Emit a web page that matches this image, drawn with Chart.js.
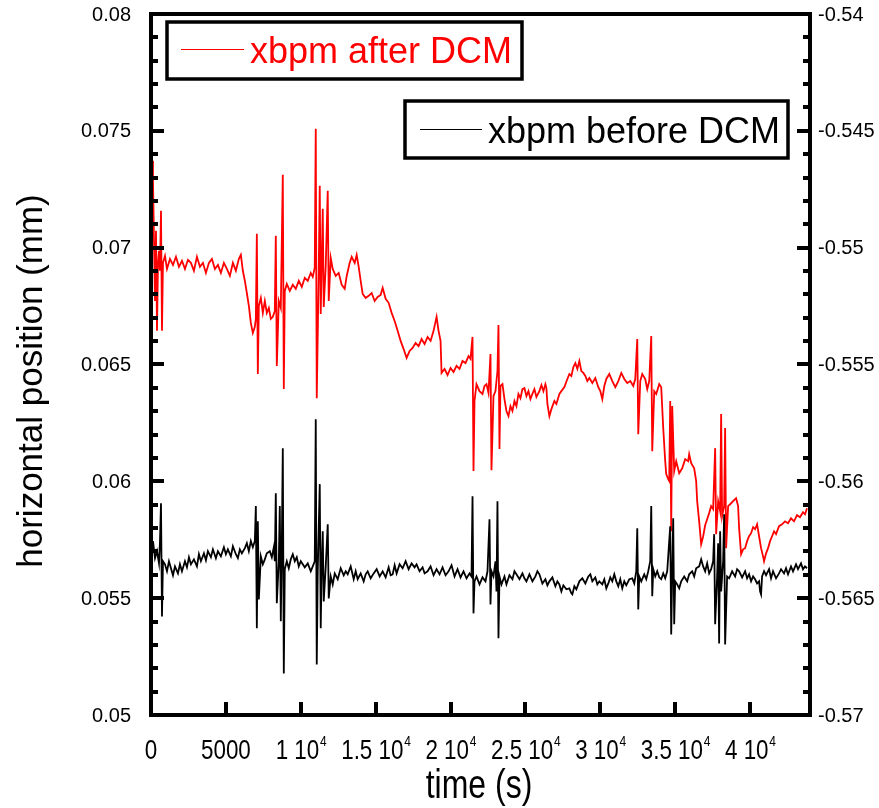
<!DOCTYPE html>
<html>
<head>
<meta charset="utf-8">
<script src="https://cdn.jsdelivr.net/npm/chart.js@4/dist/chart.umd.min.js"></script>
<style>
  html, body { margin: 0; padding: 0; background: #fff; }
  canvas { display: block; }
</style>
</head>
<body>
<canvas id="xbpmChart" width="879" height="808" style="width:879px;height:808px"></canvas>
<script>
// time axis (s) for xbpm after DCM
const tAfter = [
  67,133,200,267,333,400,467,533,600,667,
  733,800,933,1067,1267,1467,1667,1867,2067,2267,
  2467,2667,2867,3067,3267,3467,3667,3867,4067,4267,
  4467,4667,4867,5067,5267,5467,5667,5867,6000,6133,
  6267,6400,6533,6667,6800,6933,7000,7067,7133,7200,
  7333,7467,7600,7733,7867,8000,8133,8267,8333,8400,
  8533,8667,8800,8867,8933,9067,9267,9467,9667,9867,
  10067,10267,10467,10667,10800,10933,11000,11067,11200,11267,
  11333,11467,11533,11667,11800,11867,12000,12133,12333,12533,
  12733,12933,13067,13267,13400,13600,13733,13867,14000,14133,
  14333,14533,14733,14933,15133,15333,15467,15667,15867,16067,
  16267,16467,16667,16867,17067,17267,17467,17667,17867,18067,
  18267,18467,18667,18867,19067,19200,19333,19400,19600,19800,
  20000,20200,20400,20600,20800,21000,21200,21333,21467,21533,
  21600,21733,21933,22133,22267,22400,22533,22667,22733,22867,
  23000,23133,23200,23267,23333,23467,23600,23733,23867,24000,
  24133,24267,24400,24533,24667,24800,24933,25067,25200,25333,
  25467,25600,25733,25933,26067,26200,26333,26400,26467,26600,
  26733,26933,27067,27267,27400,27600,27800,27933,28067,28200,
  28333,28467,28600,28733,28867,29000,29133,29267,29467,29667,
  29867,30000,30133,30267,30400,30600,30800,31000,31200,31400,
  31600,31800,32000,32200,32333,32467,32533,32667,32800,33000,
  33133,33267,33400,33467,33600,33733,33933,34067,34200,34333,
  34400,34533,34600,34667,34733,34800,34933,35067,35267,35467,
  35667,35867,35933,36067,36267,36400,36467,36600,36733,36867,
  37000,37133,37267,37400,37533,37667,37733,37867,38000,38067,
  38133,38267,38333,38400,38533,38667,38867,39067,39200,39267,
  39400,39533,39667,39800,39933,40067,40200,40333,40467,40600,
  40733,40867,40933,41067,41200,41333,41467,41600,41733,41933,
  42133,42333,42533,42733,42933,43133,43333,43533,43667,43800
];
// horizontal position (mm), left axis
const xbpmAfter = [
  0.07372,0.07286,0.07029,0.06772,0.07072,0.06644,0.06935,0.06986,0.06901,0.07158,
  0.06644,0.06935,0.06965,0.06909,0.06952,0.06926,0.06961,0.06918,0.06944,0.06909,
  0.06948,0.06935,0.06901,0.06961,0.06918,0.06935,0.06892,0.06935,0.06952,0.06909,
  0.06926,0.06892,0.06935,0.06909,0.06879,0.06935,0.06901,0.06952,0.06969,0.06901,
  0.06858,0.06806,0.06751,0.06678,0.06635,0.06661,0.06695,0.07059,0.06459,0.06751,
  0.06785,0.06721,0.06772,0.06721,0.06742,0.06695,0.06704,0.06729,0.07051,0.06494,
  0.06772,0.06742,0.07312,0.06395,0.06815,0.06845,0.06815,0.06841,0.06824,0.06858,
  0.06832,0.06871,0.06858,0.06892,0.06875,0.06914,0.07509,0.06356,0.06901,0.07265,
  0.06716,0.07166,0.06746,0.06922,0.07244,0.06772,0.06956,0.06909,0.06879,0.06892,
  0.06841,0.06824,0.06879,0.06935,0.06961,0.06935,0.06969,0.06918,0.06858,0.06802,
  0.06785,0.06794,0.06806,0.06772,0.06789,0.06798,0.06828,0.06781,0.06764,0.06721,
  0.06686,0.06644,0.06601,0.06566,0.06528,0.06558,0.06571,0.06592,0.06579,0.06609,
  0.06588,0.06618,0.06601,0.06644,0.06704,0.06644,0.06601,0.06464,0.06481,0.06455,
  0.06485,0.06468,0.06494,0.06481,0.06515,0.06506,0.06536,0.06524,0.06618,0.06044,
  0.06344,0.06416,0.06386,0.06374,0.06408,0.06416,0.06378,0.06545,0.06048,0.06365,
  0.06386,0.06472,0.06669,0.06138,0.06408,0.06416,0.06352,0.06301,0.06279,0.06322,
  0.06301,0.06344,0.06322,0.06374,0.06356,0.06395,0.06399,0.06365,0.06386,0.06352,
  0.06374,0.06395,0.06361,0.06386,0.06412,0.06386,0.06416,0.06399,0.06331,0.06279,
  0.06309,0.06344,0.06331,0.06374,0.06386,0.06403,0.06438,0.06459,0.06451,0.06489,
  0.06506,0.06481,0.06515,0.06472,0.06464,0.06451,0.06429,0.06442,0.06421,0.06442,
  0.06403,0.06386,0.06352,0.06408,0.06438,0.06459,0.06429,0.06403,0.06429,0.06464,
  0.06438,0.06421,0.06429,0.06408,0.06438,0.06609,0.06202,0.06429,0.06459,0.06438,
  0.06395,0.06429,0.06622,0.06129,0.06386,0.06374,0.06416,0.06403,0.06228,0.06086,
  0.06031,0.06009,0.06001,0.06344,0.05786,0.06322,0.06044,0.06086,0.06035,0.06056,
  0.06095,0.06086,0.06116,0.06078,0.06056,0.06001,0.05915,0.05829,0.05731,0.05765,
  0.05812,0.05838,0.05864,0.05894,0.05881,0.06142,0.05774,0.05915,0.05872,0.06288,
  0.05851,0.05894,0.06228,0.05714,0.05894,0.05902,0.05915,0.05928,0.05894,0.05799,
  0.05688,0.05709,0.05714,0.05744,0.05765,0.05778,0.05804,0.05795,0.05816,0.05765,
  0.05714,0.05679,0.05658,0.05692,0.05714,0.05744,0.05765,0.05786,0.05774,0.05808,
  0.05816,0.05829,0.05821,0.05842,0.05829,0.05855,0.05846,0.05868,0.05859,0.05885
];

// time axis (s) for xbpm before DCM
const tBefore = [
  67,133,267,400,533,600,667,733,800,933,
  1067,1200,1333,1467,1600,1800,1933,2067,2267,2400,
  2533,2667,2867,3067,3200,3333,3533,3667,3800,4000,
  4133,4333,4467,4667,4867,5000,5133,5333,5467,5667,
  5800,5933,6067,6267,6400,6533,6667,6800,6933,7000,
  7067,7133,7200,7333,7467,7600,7733,7933,8067,8200,
  8267,8333,8400,8533,8600,8667,8733,8800,8867,8933,
  9067,9200,9333,9467,9600,9733,9867,10000,10133,10267,
  10467,10667,10800,10933,11000,11067,11133,11267,11333,11400,
  11467,11533,11667,11800,11867,12000,12133,12267,12467,12667,
  12867,13000,13133,13333,13533,13667,13800,14000,14200,14333,
  14467,14667,14867,15067,15267,15467,15667,15867,16000,16133,
  16267,16400,16600,16800,17000,17200,17400,17600,17733,17933,
  18133,18267,18467,18667,18867,19067,19267,19467,19667,19867,
  20067,20267,20467,20667,20867,21067,21267,21400,21467,21533,
  21600,21733,21933,22133,22333,22467,22600,22667,22733,22867,
  23000,23067,23133,23200,23267,23400,23600,23733,23933,24133,
  24267,24400,24600,24800,24933,25067,25267,25467,25667,25800,
  25933,26133,26333,26467,26600,26800,27000,27133,27267,27400,
  27533,27733,27933,28067,28133,28267,28400,28600,28800,29000,
  29200,29333,29467,29667,29800,29933,30133,30267,30400,30533,
  30667,30800,30933,31067,31200,31333,31467,31600,31733,31933,
  32133,32267,32400,32467,32533,32600,32733,32933,33067,33200,
  33333,33400,33467,33533,33667,33800,33933,34067,34200,34333,
  34467,34600,34667,34733,34800,34867,34933,35000,35133,35267,
  35400,35600,35800,35933,36133,36267,36400,36600,36733,36867,
  37000,37133,37267,37400,37533,37600,37667,37800,37867,37933,
  38000,38067,38200,38267,38333,38467,38600,38800,39000,39133,
  39267,39467,39667,39800,39933,40067,40200,40333,40467,40600,
  40667,40733,40800,40933,41067,41267,41400,41533,41733,41933,
  42067,42267,42400,42533,42733,42867,43067,43200,43400,43533,
  43667,43800
];
// horizontal position (mm), right axis
const xbpmBefore = [
  -0.56278,-0.56256,-0.56329,-0.56299,-0.56351,-0.56256,-0.56094,-0.56578,-0.56342,-0.56355,
  -0.56385,-0.56342,-0.56372,-0.56402,-0.56364,-0.56394,-0.56355,-0.56385,-0.56342,-0.56368,
  -0.56325,-0.56355,-0.56334,-0.56364,-0.56312,-0.56342,-0.56308,-0.56338,-0.56299,-0.56325,
  -0.56291,-0.56329,-0.56299,-0.56321,-0.56282,-0.56312,-0.56291,-0.56321,-0.56278,-0.56312,
  -0.56329,-0.56291,-0.56308,-0.56286,-0.56265,-0.56299,-0.56256,-0.56282,-0.56256,-0.56106,
  -0.56629,-0.56171,-0.56505,-0.56321,-0.56355,-0.56334,-0.56308,-0.56299,-0.56325,-0.56282,
  -0.56342,-0.56051,-0.56522,-0.56342,-0.56106,-0.56599,-0.56278,-0.55858,-0.56822,-0.56376,
  -0.56342,-0.56372,-0.56334,-0.56312,-0.56342,-0.56325,-0.56364,-0.56342,-0.56355,-0.56368,
  -0.56351,-0.56385,-0.56364,-0.56342,-0.55734,-0.56784,-0.56385,-0.56012,-0.56629,-0.56342,
  -0.56214,-0.56514,-0.56364,-0.56184,-0.56501,-0.56407,-0.56441,-0.56394,-0.56419,-0.56372,
  -0.56402,-0.56385,-0.56398,-0.56364,-0.56419,-0.56385,-0.56419,-0.56394,-0.56428,-0.56398,
  -0.56385,-0.56415,-0.56394,-0.56376,-0.56407,-0.56385,-0.56411,-0.56368,-0.56402,-0.56398,
  -0.56359,-0.56394,-0.56355,-0.56372,-0.56342,-0.56376,-0.56351,-0.56368,-0.56355,-0.56385,
  -0.56368,-0.56394,-0.56385,-0.56364,-0.56402,-0.56376,-0.56398,-0.56368,-0.56402,-0.56385,
  -0.56359,-0.56407,-0.56376,-0.56411,-0.56385,-0.56415,-0.56394,-0.56407,-0.56064,-0.56565,
  -0.56428,-0.56407,-0.56441,-0.56411,-0.56428,-0.56385,-0.56162,-0.56527,-0.56385,-0.56407,
  -0.56342,-0.56471,-0.56085,-0.56672,-0.56407,-0.56441,-0.56407,-0.56441,-0.56402,-0.56419,
  -0.56385,-0.56398,-0.56419,-0.56394,-0.56415,-0.56428,-0.56398,-0.56428,-0.56407,-0.56385,
  -0.56398,-0.56437,-0.56419,-0.56445,-0.56428,-0.56411,-0.56449,-0.56428,-0.56441,-0.56471,
  -0.56445,-0.56462,-0.56458,-0.56479,-0.56484,-0.56449,-0.56462,-0.56428,-0.56415,-0.56437,
  -0.56407,-0.56398,-0.56428,-0.56411,-0.56441,-0.56428,-0.56441,-0.56419,-0.56458,-0.56437,
  -0.56411,-0.56428,-0.56398,-0.56428,-0.56449,-0.56419,-0.56458,-0.56428,-0.56445,-0.56419,
  -0.56415,-0.56437,-0.56385,-0.56201,-0.56548,-0.56407,-0.56428,-0.56398,-0.56419,-0.56385,
  -0.56342,-0.56106,-0.56492,-0.56376,-0.56407,-0.56385,-0.56411,-0.56419,-0.56394,-0.56415,
  -0.56385,-0.56256,-0.56192,-0.56655,-0.56385,-0.56158,-0.56612,-0.56428,-0.56441,-0.56458,
  -0.56428,-0.56407,-0.56428,-0.56398,-0.56385,-0.56407,-0.56372,-0.56364,-0.56334,-0.56364,
  -0.56385,-0.56351,-0.56394,-0.56376,-0.56342,-0.56226,-0.56612,-0.56407,-0.56265,-0.56694,
  -0.56214,-0.56471,-0.56342,-0.56141,-0.56698,-0.56407,-0.56415,-0.56385,-0.56407,-0.56376,
  -0.56385,-0.56411,-0.56385,-0.56415,-0.56398,-0.56428,-0.56407,-0.56419,-0.56437,-0.56428,
  -0.56471,-0.56484,-0.56407,-0.56385,-0.56402,-0.56376,-0.56415,-0.56385,-0.56415,-0.56394,
  -0.56376,-0.56394,-0.56372,-0.56398,-0.56364,-0.56385,-0.56355,-0.56376,-0.56351,-0.56376,
  -0.56364,-0.56372
];

// axes
const xTicks = [0, 5000, 10000, 15000, 20000, 25000, 30000, 35000, 40000];
const xTickLabels = ["0", "5000", "1 10^4", "1.5 10^4", "2 10^4", "2.5 10^4", "3 10^4", "3.5 10^4", "4 10^4"];
const yLeftTicks = [0.05, 0.055, 0.06, 0.065, 0.07, 0.075, 0.08];
const yRightTicks = [-0.57, -0.565, -0.56, -0.555, -0.55, -0.545, -0.54];
const minorStep = 0.001;

if (tAfter.length !== xbpmAfter.length || tBefore.length !== xbpmBefore.length) {
  throw new Error("length mismatch " + tAfter.length + "/" + xbpmAfter.length + " " + tBefore.length + "/" + xbpmBefore.length);
}

const SANS = "'Liberation Sans', Arial, sans-serif";

/* frame, inward ticks, labels, legends */
const originFrame = {
  id: "originFrame",
  afterDraw(chart) {
    const { ctx, chartArea: a, scales } = chart;
    const x = scales.x, yl = scales.y, yr = scales.y2;
    ctx.save();
    ctx.strokeStyle = "#000";
    ctx.fillStyle = "#000";
    ctx.lineWidth = 4;
    ctx.lineCap = "butt";

    // minor + major ticks on left and right
    for (let v = 0.05; v <= 0.0805; v += minorStep) {
      const py = Math.round(yl.getPixelForValue(v));
      const major = Math.abs(v / 0.005 - Math.round(v / 0.005)) < 1e-6;
      const len = major ? 13 : 7;
      ctx.beginPath();
      ctx.moveTo(a.left, py); ctx.lineTo(a.left + len, py);
      ctx.moveTo(a.right, py); ctx.lineTo(a.right - len, py);
      ctx.stroke();
    }
    // bottom ticks
    xTicks.forEach(v => {
      const px = Math.round(x.getPixelForValue(v));
      ctx.beginPath();
      ctx.moveTo(px, a.bottom); ctx.lineTo(px, a.bottom - 13);
      ctx.stroke();
    });
    // frame
    ctx.strokeRect(a.left, a.top, a.right - a.left, a.bottom - a.top);

    // y tick labels
    ctx.font = "20px " + SANS;
    ctx.textBaseline = "middle";
    ctx.textAlign = "right";
    yLeftTicks.forEach(v => {
      ctx.fillText(String(+v.toFixed(3)), 131, yl.getPixelForValue(v) + 1);
    });
    ctx.textAlign = "left";
    yRightTicks.forEach(v => {
      ctx.fillText(String(+v.toFixed(3)), 818, yr.getPixelForValue(v) + 1);
    });

    // x tick labels (narrow)
    ctx.textBaseline = "alphabetic";
    xTicks.forEach((v, i) => {
      const [main, exp] = xTickLabels[i].split("^");
      const px = x.getPixelForValue(v);
      ctx.save();
      ctx.translate(px, 759);
      ctx.scale(0.8, 1);
      ctx.font = "28px " + SANS;
      const wMain = ctx.measureText(main).width;
      ctx.font = "15px " + SANS;
      const wExp = exp ? ctx.measureText(exp).width : 0;
      const x0 = -(wMain + wExp) / 2;
      ctx.textAlign = "left";
      ctx.font = "28px " + SANS;
      ctx.fillText(main, x0, 0);
      if (exp) {
        ctx.font = "15px " + SANS;
        ctx.fillText(exp, x0 + wMain + 1, -13);
      }
      ctx.restore();
    });

    // axis titles
    ctx.save();
    ctx.translate(479, 798);
    ctx.scale(0.8, 1);
    ctx.font = "40px " + SANS;
    ctx.textAlign = "center";
    ctx.fillText("time (s)", 0, 0);
    ctx.restore();

    ctx.save();
    ctx.translate(42, 381);
    ctx.rotate(-Math.PI / 2);
    ctx.font = "35px " + SANS;
    ctx.textAlign = "center";
    ctx.textBaseline = "alphabetic";
    ctx.fillText("horizontal position (mm)", 0, 0);
    ctx.restore();

    // legends
    drawLegend(ctx, 167, 22, 355, 57, 181, 244, 49, 250, 63, "#ff0000", "xbpm after DCM");
    drawLegend(ctx, 405, 101, 383, 57, 420, 482, 129, 488, 143, "#000000", "xbpm before DCM");
    ctx.restore();
  }
};

function drawLegend(ctx, bx, by, bw, bh, lx0, lx1, ly, tx, ty, color, text) {
  ctx.save();
  ctx.fillStyle = "#fff";
  ctx.fillRect(bx, by, bw, bh);
  ctx.strokeStyle = "#000";
  ctx.lineWidth = 3.5;
  ctx.strokeRect(bx, by, bw, bh);
  ctx.strokeStyle = color;
  ctx.lineWidth = 1;
  ctx.beginPath();
  ctx.moveTo(lx0, ly + 0.5); ctx.lineTo(lx1, ly + 0.5);
  ctx.stroke();
  ctx.fillStyle = color;
  ctx.font = "36px " + SANS;
  ctx.textAlign = "left";
  ctx.textBaseline = "alphabetic";
  ctx.fillText(text, tx, ty);
  ctx.restore();
}

const ctx = document.getElementById("xbpmChart");

new Chart(ctx, {
  type: "line",
  data: {
    datasets: [
      {
        label: "xbpm after DCM",
        data: tAfter.map((t, i) => ({ x: t, y: xbpmAfter[i] })),
        yAxisID: "y",
        borderColor: "#ff0000",
        borderWidth: 1.8,
        pointRadius: 0,
        tension: 0,
        order: 2
      },
      {
        label: "xbpm before DCM",
        data: tBefore.map((t, i) => ({ x: t, y: xbpmBefore[i] })),
        yAxisID: "y2",
        borderColor: "#000000",
        borderWidth: 1.8,
        pointRadius: 0,
        tension: 0,
        order: 1
      }
    ]
  },
  options: {
    responsive: false,
    animation: false,
    events: [],
    layout: { padding: { top: 14, left: 0, right: 0, bottom: 0 } },
    plugins: {
      legend: { display: false },
      tooltip: { enabled: false },
      title: { display: false }
    },
    scales: {
      x: {
        type: "linear",
        position: "bottom",
        min: 0,
        max: 44000,
        ticks: { display: false },
        grid: { display: false },
        border: { display: false },
        afterFit(s) { s.height = 93; }
      },
      y: {
        type: "linear",
        position: "left",
        min: 0.05,
        max: 0.08,
        ticks: { display: false },
        grid: { display: false },
        border: { display: false },
        afterFit(s) { s.width = 151; }
      },
      y2: {
        type: "linear",
        position: "right",
        min: -0.57,
        max: -0.54,
        ticks: { display: false },
        grid: { display: false },
        border: { display: false },
        afterFit(s) { s.width = 69; }
      }
    }
  },
  plugins: [originFrame]
});
</script>
</body>
</html>
